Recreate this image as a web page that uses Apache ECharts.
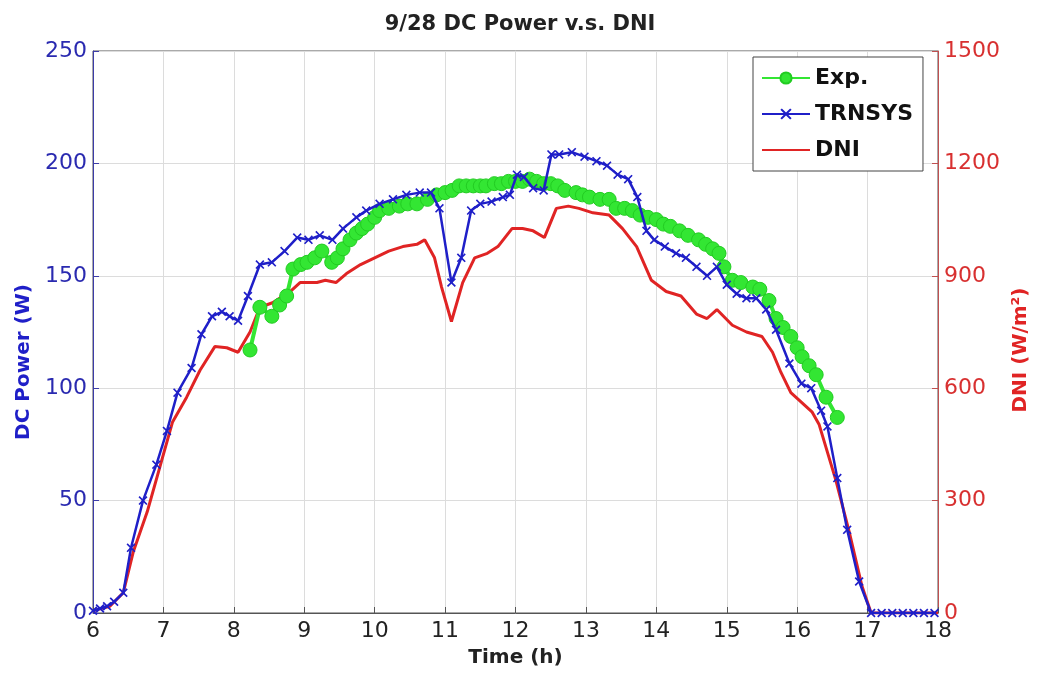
<!DOCTYPE html>
<html>
<head>
<meta charset="utf-8">
<script src="https://cdn.jsdelivr.net/npm/echarts@6/dist/echarts.min.js"></script>
<style>
  html, body { margin: 0; padding: 0; background: #fff; }
  #chart { width: 1040px; height: 677px; }
</style>
</head>
<body>
<div id="chart"></div>
<script>
// time (h) and values
var expHours = [8.23, 8.37, 8.54, 8.65, 8.75, 8.84, 8.95, 9.04, 9.15, 9.25, 9.39, 9.47, 9.55, 9.65, 9.74, 9.82, 9.9, 10.0, 10.07, 10.2, 10.35, 10.47, 10.6, 10.75, 10.88, 11.0, 11.1, 11.2, 11.3, 11.4, 11.5, 11.58, 11.7, 11.8, 11.9, 12.0, 12.1, 12.2, 12.3, 12.4, 12.5, 12.6, 12.7, 12.86, 12.95, 13.05, 13.2, 13.33, 13.43, 13.55, 13.66, 13.77, 13.88, 14.0, 14.1, 14.2, 14.33, 14.45, 14.6, 14.7, 14.8, 14.89, 14.96, 15.08, 15.2, 15.37, 15.47, 15.6, 15.7, 15.8, 15.91, 16.0, 16.07, 16.17, 16.27, 16.41, 16.57];
var expPower = [117, 136, 132, 137, 141, 153, 155, 156, 158, 161, 156, 158, 162, 166, 169, 171, 173, 176, 179, 180, 181, 182, 182, 184, 186, 187, 188, 190, 190, 190, 190, 190, 191, 191, 192, 192, 192, 193, 192, 191, 191, 190, 188, 187, 186, 185, 184, 184, 180, 180, 179, 177, 176, 175, 173, 172, 170, 168, 166, 164, 162, 160, 154, 148, 147, 145, 144, 139, 131, 127, 123, 118, 114, 110, 106, 96, 87];

var trnHours = [6.0, 6.1, 6.2, 6.3, 6.43, 6.54, 6.71, 6.9, 7.05, 7.2, 7.4, 7.54, 7.69, 7.83, 7.94, 8.06, 8.2, 8.37, 8.54, 8.72, 8.9, 9.06, 9.22, 9.4, 9.55, 9.74, 9.88, 10.07, 10.26, 10.45, 10.64, 10.8, 10.92, 11.09, 11.23, 11.37, 11.5, 11.66, 11.82, 11.92, 12.02, 12.12, 12.25, 12.4, 12.51, 12.62, 12.8, 12.98, 13.15, 13.3, 13.45, 13.6, 13.73, 13.86, 13.97, 14.12, 14.28, 14.42, 14.57, 14.72, 14.86, 15.0, 15.14, 15.28, 15.42, 15.56, 15.7, 15.89, 16.06, 16.2, 16.34, 16.43, 16.57, 16.71, 16.88, 17.05, 17.2, 17.35, 17.5, 17.65, 17.8, 17.95];
var trnPower = [1, 2, 3, 5, 9, 29, 50, 66, 81, 98, 109, 124, 132, 134, 132, 130, 141, 155, 156, 161, 167, 166, 168, 166, 171, 176, 179, 182, 184, 186, 187, 187, 180, 147, 158, 179, 182, 183, 185, 186, 195, 194, 189, 188, 204, 204, 205, 203, 201, 199, 195, 193, 185, 170, 166, 163, 160, 158, 154, 150, 154, 146, 142, 140, 140, 135, 126, 111, 102, 100, 90, 83, 60, 37, 14, 0, 0, 0, 0, 0, 0, 0];

var dniHours = [6.0, 6.06, 6.24, 6.43, 6.57, 6.77, 6.95, 7.13, 7.33, 7.52, 7.73, 7.9, 8.06, 8.23, 8.37, 8.55, 8.8, 8.94, 9.18, 9.3, 9.45, 9.6, 9.8, 10.0, 10.2, 10.4, 10.6, 10.71, 10.85, 10.95, 11.09, 11.25, 11.42, 11.6, 11.75, 11.95, 12.1, 12.25, 12.41, 12.58, 12.75, 12.9, 13.1, 13.33, 13.52, 13.72, 13.93, 14.14, 14.35, 14.57, 14.72, 14.86, 15.08, 15.28, 15.5, 15.65, 15.77, 15.91, 16.07, 16.21, 16.31, 16.55, 16.74, 16.92, 17.05, 18.0];
var dniValue = [6, 9, 18, 54, 162, 270, 390, 510, 576, 648, 711, 708, 696, 750, 816, 828, 858, 882, 882, 888, 882, 906, 930, 948, 966, 978, 984, 996, 948, 870, 778, 882, 948, 960, 978, 1026, 1026, 1020, 1002, 1080, 1086, 1080, 1068, 1062, 1026, 978, 888, 858, 846, 798, 786, 810, 768, 750, 738, 696, 642, 588, 561, 537, 504, 354, 216, 72, 0, 0];

function pairs(xs, ys) {
    return xs.map(function (x, i) { return [x, ys[i]]; });
}

var FONT = '"DejaVu Sans", Arial, sans-serif';
var BLUE = '#1f1fc8';
var RED = '#e02424';
var GREEN = '#33e633';
var xMark = 'path://M0,1.3 L1.3,0 L5,3.7 L8.7,0 L10,1.3 L6.3,5 L10,8.7 L8.7,10 L5,6.3 L1.3,10 L0,8.7 L3.7,5 Z';
var plain = function (v) { return String(v); };

var chart = echarts.init(document.getElementById('chart'));
chart.setOption({
    backgroundColor: '#fff',
    animation: false,
    title: {
        text: '9/28 DC Power v.s. DNI',
        left: 'center',
        top: 9,
        textStyle: { fontFamily: FONT, fontSize: 21, fontWeight: 'bold', color: '#222' }
    },
    legend: {
        data: ['Exp.', 'TRNSYS', { name: 'DNI', itemStyle: { opacity: 0 } }],
        orient: 'vertical',
        left: 753,
        top: 57,
        padding: [8, 10, 8, 8],
        itemGap: 10,
        itemWidth: 48,
        itemHeight: 14,
        backgroundColor: '#fff',
        borderColor: '#444',
        borderWidth: 1,
        borderRadius: 0,
        textStyle: { fontFamily: FONT, fontSize: 22, fontWeight: 'bold', color: '#111', lineHeight: 26 }
    },
    grid: {
        left: 93, right: 102, top: 51, bottom: 64,
        show: true, borderColor: '#555', borderWidth: 1
    },
    xAxis: {
        type: 'value',
        min: 6, max: 18, interval: 1,
        name: 'Time (h)',
        nameLocation: 'middle',
        nameGap: 35,
        nameTextStyle: { fontFamily: FONT, fontSize: 20, fontWeight: 'bold', color: '#222' },
        axisLine: { onZero: false, lineStyle: { color: '#555' } },
        axisTick: { inside: true, length: 6, lineStyle: { color: '#555' } },
        axisLabel: { fontFamily: FONT, fontSize: 22, color: '#222', margin: 7, formatter: plain },
        splitLine: { show: true, lineStyle: { color: '#dcdcdc', width: 1 } }
    },
    yAxis: [{
        type: 'value',
        min: 0, max: 250, interval: 50,
        name: 'DC Power (W)',
        nameLocation: 'middle',
        nameGap: 53,
        nameTextStyle: { fontFamily: FONT, fontSize: 20, fontWeight: 'bold', color: BLUE, padding: [0, 60, 0, 0] },
        axisLine: { show: true, lineStyle: { color: '#3c3ca8' } },
        axisTick: { show: true, inside: true, length: 6, lineStyle: { color: '#3c3ca8' } },
        axisLabel: { fontFamily: FONT, fontSize: 22, color: '#2a2ab0', margin: 6, formatter: plain },
        splitLine: { show: true, lineStyle: { color: '#dcdcdc', width: 1 } }
    }, {
        type: 'value',
        min: 0, max: 1500, interval: 300,
        name: 'DNI (W/m²)',
        nameLocation: 'middle',
        nameGap: 70,
        nameRotate: 90,
        nameTextStyle: { fontFamily: FONT, fontSize: 20, fontWeight: 'bold', color: RED, padding: [0, 36, 0, 0] },
        axisLine: { show: true, lineStyle: { color: '#c05050' } },
        axisTick: { show: true, inside: true, length: 6, lineStyle: { color: '#c05050' } },
        axisLabel: { fontFamily: FONT, fontSize: 22, color: '#d83030', margin: 6, formatter: plain },
        splitLine: { show: false }
    }],
    series: [{
        name: 'DNI',
        type: 'line',
        yAxisIndex: 1,
        data: pairs(dniHours, dniValue),
        showSymbol: false,
        symbol: 'none',
        lineStyle: { color: RED, width: 3 },
        itemStyle: { color: RED },
        z: 2
    }, {
        name: 'Exp.',
        type: 'line',
        data: pairs(expHours, expPower),
        symbol: 'circle',
        symbolSize: 14,
        lineStyle: { color: GREEN, width: 4 },
        itemStyle: { color: GREEN, borderColor: '#22cc22', borderWidth: 1 },
        z: 3
    }, {
        name: 'TRNSYS',
        type: 'line',
        data: pairs(trnHours, trnPower),
        symbol: xMark,
        symbolSize: 9,
        lineStyle: { color: BLUE, width: 2.5 },
        itemStyle: { color: BLUE },
        z: 4
    }]
});
</script>
</body>
</html>
